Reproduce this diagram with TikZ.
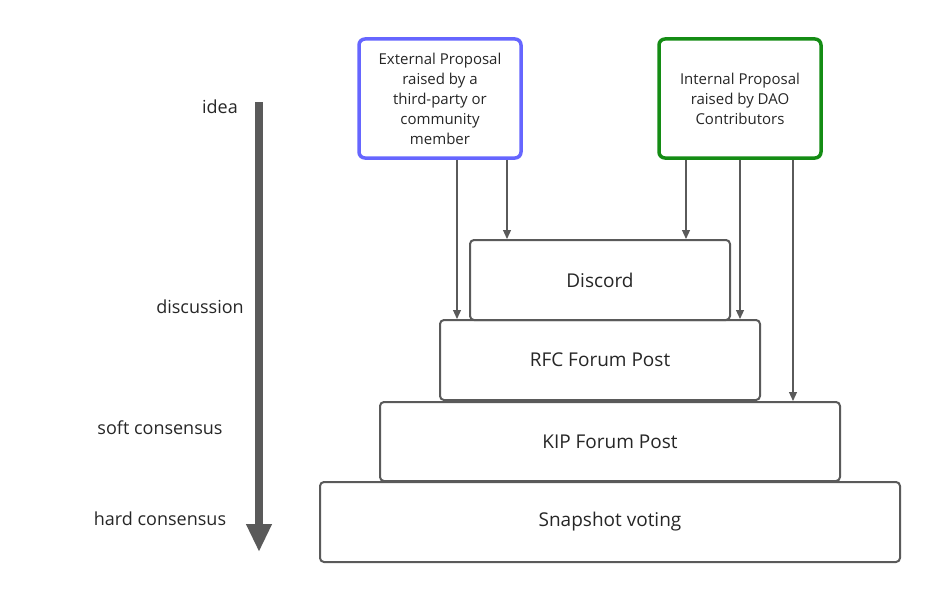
\documentclass[tikz,border=0pt]{standalone}
\usepackage{fontspec}
\setmainfont{Open Sans}
\usetikzlibrary{arrows.meta}
\definecolor{gr}{HTML}{5A5A5A}
\begin{document}
\begin{tikzpicture}[x=1pt,y=-1pt,
 box/.style={draw=gr,line width=2pt,rounded corners=4pt,font=\fontsize{19}{22}\selectfont,text=black!85},
 prop/.style={line width=3.5pt,rounded corners=6pt,align=center,font=\fontsize{15}{20}\selectfont,text=black!85},
 lab/.style={font=\fontsize{18}{22}\selectfont,text=black!85},
 arr/.style={draw=gr,line width=1.2pt,-{Triangle[length=9pt,width=8pt]}}]
\useasboundingbox (0,0) rectangle (940,602);
\node[box,minimum width=580,minimum height=80] (snap) at (610,522) {Snapshot voting};
\node[box,minimum width=460,minimum height=79] (kip) at (610,441.5) {KIP Forum Post};
\node[box,minimum width=320,minimum height=80] (rfc) at (600,360) {RFC Forum Post};
\node[box,minimum width=260,minimum height=80,fill=white] (disc) at (600,280) {Discord};
\node[prop,draw={rgb,255:red,102;green,102;blue,255},minimum width=162,minimum height=119] (ext) at (440,98.5) {External Proposal\\raised by a\\third-party or\\community\\member};
\node[prop,draw={rgb,255:red,20;green,140;blue,20},minimum width=162,minimum height=119] (int) at (740,98.5) {Internal Proposal\\raised by DAO\\Contributors};
\coordinate (a0) at (259,102);
\coordinate (a1) at (259,552);
\draw[gr,line width=8pt,-{Triangle[length=28pt,width=24pt]}] (a0) -- (a1);
\node[lab] (l1) at (220,107) {idea};
\node[lab] (l2) at (200,307) {discussion};
\node[lab] (l3) at (160,428) {soft consensus};
\node[lab] (l4) at (160,519) {hard consensus};
\draw[arr] (ext.south -| 457,0) -- (rfc.north -| 457,0);
\draw[arr] (ext.south -| 507,0) -- (disc.north -| 507,0);
\draw[arr] (int.south -| 686,0) -- (disc.north -| 686,0);
\draw[arr] (int.south -| 740,0) -- (rfc.north -| 740,0);
\draw[arr] (int.south -| 793,0) -- (kip.north -| 793,0);
\end{tikzpicture}
\end{document}
